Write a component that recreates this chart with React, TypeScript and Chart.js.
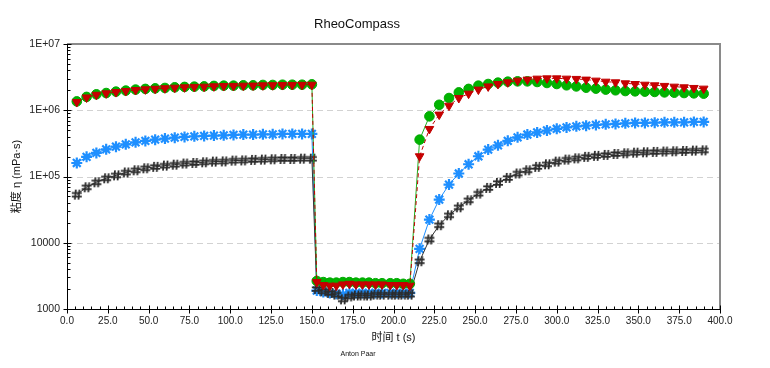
import React, { useEffect, useRef } from "react";
import { Chart, registerables } from "chart.js";

Chart.register(...registerables);

// ---- time values (s) ----
const timeSeg1 = [6, 12, 18, 24, 30, 36, 42, 48, 54, 60, 66, 72, 78, 84, 90, 96, 102, 108, 114, 120, 126, 132, 138, 144, 150];
const timeSeg2 = [153, 157, 161, 165, 169, 173, 177, 181, 185, 189, 193, 198, 202, 206, 210];
const timeSeg3 = [216, 222, 228, 234, 240, 246, 252, 258, 264, 270, 276, 282, 288, 294, 300, 306, 312, 318, 324, 330, 336, 342, 348, 354, 360, 366, 372, 378, 384, 390];
const times = [...timeSeg1, ...timeSeg2, ...timeSeg3];

// ---- viscosity values (mPa·s) ----
const greenValues = [
  1.36e6, 1.59e6, 1.74e6, 1.82e6, 1.91e6, 1.98e6, 2.05e6, 2.10e6, 2.14e6, 2.17e6, 2.22e6, 2.25e6, 2.27e6, 2.29e6, 2.33e6, 2.35e6, 2.35e6, 2.38e6, 2.38e6, 2.41e6, 2.41e6, 2.43e6, 2.43e6, 2.43e6, 2.46e6,
  2650, 2550, 2500, 2500, 2550, 2550, 2500, 2500, 2500, 2450, 2450, 2450, 2450, 2400, 2400,
  3.60e5, 8.09e5, 1.21e6, 1.53e6, 1.86e6, 2.10e6, 2.35e6, 2.49e6, 2.61e6, 2.70e6, 2.73e6, 2.73e6, 2.67e6, 2.58e6, 2.49e6, 2.38e6, 2.29e6, 2.19e6, 2.12e6, 2.05e6, 2.00e6, 1.95e6, 1.93e6, 1.91e6, 1.89e6, 1.86e6, 1.84e6, 1.82e6, 1.80e6, 1.78e6,
];
const redValues = [
  1.33e6, 1.56e6, 1.71e6, 1.80e6, 1.88e6, 1.95e6, 2.02e6, 2.07e6, 2.11e6, 2.15e6, 2.19e6, 2.22e6, 2.25e6, 2.27e6, 2.30e6, 2.32e6, 2.33e6, 2.35e6, 2.36e6, 2.38e6, 2.39e6, 2.40e6, 2.41e6, 2.42e6, 2.43e6,
  2550, 2300, 2250, 2250, 2350, 2400, 2350, 2350, 2350, 2350, 2350, 2300, 2300, 2300, 2250,
  2.02e5, 5.22e5, 8.59e5, 1.17e6, 1.53e6, 1.78e6, 2.05e6, 2.29e6, 2.49e6, 2.64e6, 2.80e6, 2.90e6, 3.00e6, 3.03e6, 3.03e6, 3.00e6, 2.97e6, 2.90e6, 2.80e6, 2.70e6, 2.64e6, 2.55e6, 2.49e6, 2.43e6, 2.38e6, 2.33e6, 2.27e6, 2.22e6, 2.17e6, 2.12e6,
];
const blueValues = [
  1.60e5, 1.98e5, 2.27e5, 2.57e5, 2.82e5, 3.06e5, 3.28e5, 3.44e5, 3.60e5, 3.73e5, 3.86e5, 3.96e5, 4.04e5, 4.10e5, 4.14e5, 4.18e5, 4.24e5, 4.29e5, 4.29e5, 4.33e5, 4.33e5, 4.39e5, 4.39e5, 4.39e5, 4.39e5,
  1900, 1800, 1750, 1700, 1650, 1750, 1750, 1750, 1750, 1750, 1750, 1750, 1750, 1750, 1750,
  8.09e3, 2.24e4, 4.49e4, 7.55e4, 1.11e5, 1.53e5, 2.02e5, 2.55e5, 2.95e5, 3.45e5, 3.90e5, 4.30e5, 4.62e5, 4.95e5, 5.25e5, 5.50e5, 5.72e5, 5.86e5, 6.00e5, 6.13e5, 6.21e5, 6.34e5, 6.43e5, 6.43e5, 6.50e5, 6.57e5, 6.57e5, 6.57e5, 6.67e5, 6.67e5,
];
const blackValues = [
  5.33e4, 6.88e4, 8.18e4, 9.40e4, 1.04e5, 1.15e5, 1.24e5, 1.33e5, 1.40e5, 1.46e5, 1.51e5, 1.57e5, 1.60e5, 1.64e5, 1.68e5, 1.69e5, 1.74e5, 1.75e5, 1.78e5, 1.80e5, 1.82e5, 1.84e5, 1.84e5, 1.86e5, 1.86e5,
  2000, 1850, 1750, 1650, 1400, 1550, 1600, 1600, 1600, 1650, 1650, 1650, 1650, 1650, 1650,
  5.26e3, 1.12e4, 1.84e4, 2.60e4, 3.43e4, 4.38e4, 5.52e4, 6.73e4, 8.00e4, 9.53e4, 1.11e5, 1.24e5, 1.40e5, 1.53e5, 1.68e5, 1.80e5, 1.88e5, 1.98e5, 2.05e5, 2.12e5, 2.19e5, 2.24e5, 2.29e5, 2.32e5, 2.35e5, 2.38e5, 2.40e5, 2.43e5, 2.46e5, 2.48e5,
];

// ---- axes ----
const xMin = 0;
const xMax = 400;
const xMajorStep = 25;
const xMinorStep = 5;
const yMin = 1000;
const yMax = 1e7;
const yTickValues = [1000, 10000, 100000, 1000000, 10000000];
const yTickLabels = ["1000", "10000", "1E+05", "1E+06", "1E+07"];
const yGridValues = [10000, 100000, 1000000];

const chartTitle = "RheoCompass";
const xAxisTitle = "时间 t (s)";
const yAxisTitle = "粘度 η (mPa·s)";
const footerText = "Anton Paar";

const FONT = "'Liberation Sans', Arial, 'Noto Sans CJK SC', sans-serif";

function makeHashPoint(): HTMLCanvasElement {
  const c = document.createElement("canvas");
  c.width = 12;
  c.height = 12;
  const g = c.getContext("2d")!;
  g.strokeStyle = "#2b2b2b";
  g.lineWidth = 1.8;
  g.beginPath();
  g.moveTo(5, 1); g.lineTo(4, 11);
  g.moveTo(8.6, 1); g.lineTo(7.6, 11);
  g.moveTo(1, 4.3); g.lineTo(11, 4.3);
  g.moveTo(1, 7.8); g.lineTo(11, 7.8);
  g.stroke();
  return c;
}

const framePlugin = {
  id: "frame",
  beforeDatasetsDraw(chart: any) {
    const { ctx, chartArea, scales } = chart;
    const { left, right } = chartArea;
    ctx.save();
    ctx.strokeStyle = "#d2d2d2";
    ctx.lineWidth = 1;
    ctx.setLineDash([6, 4]);
    for (const v of yGridValues) {
      const py = Math.round(scales.y.getPixelForValue(v)) + 0.5;
      ctx.beginPath();
      ctx.moveTo(left, py);
      ctx.lineTo(right, py);
      ctx.stroke();
    }
    ctx.restore();
  },
  afterDatasetsDraw(chart: any) {
    const { ctx, chartArea, scales } = chart;
    const { left, right, top, bottom } = chartArea;
    const x = scales.x;
    const y = scales.y;
    ctx.save();
    // grey frame top / right
    ctx.strokeStyle = "#8a8a8a";
    ctx.lineWidth = 2;
    ctx.beginPath();
    ctx.moveTo(left, top);
    ctx.lineTo(right, top);
    ctx.lineTo(right, bottom);
    ctx.stroke();
    // black axes
    ctx.strokeStyle = "#000";
    ctx.lineWidth = 1;
    const lx = Math.round(left) + 0.5;
    const by = Math.round(bottom) + 0.5;
    ctx.beginPath();
    ctx.moveTo(lx, top);
    ctx.lineTo(lx, by);
    ctx.lineTo(right, by);
    ctx.stroke();
    // y ticks
    ctx.beginPath();
    for (let d = yMin; d < yMax * 1.001; d *= 10) {
      const py = Math.round(y.getPixelForValue(d)) + 0.5;
      ctx.moveTo(lx - 4, py);
      ctx.lineTo(lx + 4, py);
      if (d < yMax * 0.999) {
        for (let m = 2; m <= 9; m++) {
          const pm = Math.round(y.getPixelForValue(d * m)) + 0.5;
          ctx.moveTo(lx, pm);
          ctx.lineTo(lx + 3, pm);
        }
      }
    }
    // x ticks
    for (let t = xMin; t <= xMax; t += xMinorStep) {
      const px = Math.round(x.getPixelForValue(t)) + 0.5;
      if (t % xMajorStep === 0) {
        ctx.moveTo(px, by - 4);
        ctx.lineTo(px, by + 4);
      } else {
        ctx.moveTo(px, by);
        ctx.lineTo(px, by - 3);
      }
    }
    ctx.stroke();
    ctx.restore();
  },
  afterDraw(chart: any) {
    const { ctx, chartArea } = chart;
    const { left, right, top, bottom } = chartArea;
    ctx.save();
    ctx.fillStyle = "#111";
    ctx.textAlign = "center";
    ctx.textBaseline = "middle";
    ctx.font = `13px ${FONT}`;
    ctx.fillText(chartTitle, 357, 24);
    ctx.font = `11px ${FONT}`;
    ctx.fillText(xAxisTitle, (left + right) / 2, bottom + 29);
    ctx.font = `7px ${FONT}`;
    ctx.fillText(footerText, 358, 354);
    ctx.translate(17, (top + bottom) / 2);
    ctx.rotate(-Math.PI / 2);
    ctx.font = `11px ${FONT}`;
    ctx.fillText(yAxisTitle, 0, 0);
    ctx.restore();
  },
};

function pts(values: number[]) {
  return times.map((t, i) => ({ x: t, y: values[i] }));
}

export default function App() {
  const ref = useRef<HTMLCanvasElement | null>(null);
  useEffect(() => {
    if (!ref.current) return;
    const hash = makeHashPoint();
    const chart = new Chart(ref.current, {
      type: "line",
      data: {
        datasets: [
          {
            label: "red",
            data: pts(redValues),
            borderColor: "#c00000",
            backgroundColor: "#c80000",
            borderWidth: 1,
            borderDash: [4, 3],
            pointStyle: "triangle",
            rotation: 180,
            pointRadius: 5,
            pointBorderWidth: 1,
            pointBorderColor: "#c00000",
            pointBackgroundColor: "#c80000",
          },
          {
            label: "green",
            data: pts(greenValues),
            borderColor: "#22b022",
            backgroundColor: "#00b400",
            borderWidth: 1,
            pointStyle: "circle",
            pointRadius: 4.8,
            pointBorderWidth: 1,
            pointBorderColor: "#00a800",
            pointBackgroundColor: "#00b400",
          },
          {
            label: "black",
            data: pts(blackValues),
            borderColor: "#333333",
            backgroundColor: "#333333",
            borderWidth: 1,
            pointStyle: hash as any,
            pointRadius: 5,
          },
          {
            label: "blue",
            data: pts(blueValues),
            borderColor: "#1e8fff",
            backgroundColor: "#1e8fff",
            borderWidth: 1,
            pointStyle: "star",
            pointRadius: 5.5,
            pointBorderWidth: 2.2,
            pointBorderColor: "#1e8fff",
          },
        ],
      },
      options: {
        animation: false,
        responsive: false,
        events: [],
        layout: { padding: { top: 44, right: 50, left: 0, bottom: 0 } },
        plugins: {
          legend: { display: false },
          title: { display: false },
          tooltip: { enabled: false },
        },
        scales: {
          x: {
            type: "linear",
            min: xMin,
            max: xMax,
            afterFit: (s: any) => {
              s.height = 59;
            },
            grid: { display: false, drawTicks: false },
            border: { display: false },
            ticks: {
              stepSize: xMajorStep,
              autoSkip: false,
              maxRotation: 0,
              padding: 6,
              color: "#222",
              font: { family: FONT, size: 10 },
              callback: (v: any) => Number(v).toFixed(1),
            },
          },
          y: {
            type: "logarithmic",
            min: yMin,
            max: yMax,
            afterFit: (s: any) => {
              s.width = 67;
            },
            afterBuildTicks: (s: any) => {
              s.ticks = yTickValues.map((v) => ({ value: v }));
            },
            grid: { display: false, drawTicks: false },
            border: { display: false },
            ticks: {
              autoSkip: false,
              padding: 7,
              color: "#222",
              font: { family: FONT, size: 10.5 },
              callback: (v: any) => {
                const i = yTickValues.indexOf(Number(v));
                return i >= 0 ? yTickLabels[i] : "";
              },
            },
          },
        },
      },
      plugins: [framePlugin],
    });
    return () => chart.destroy();
  }, []);
  return (
    <div style={{ position: "fixed", left: 0, top: 0, width: 770, height: 368, background: "#fff" }}>
      <canvas ref={ref} width={770} height={368} style={{ display: "block" }} />
    </div>
  );
}
